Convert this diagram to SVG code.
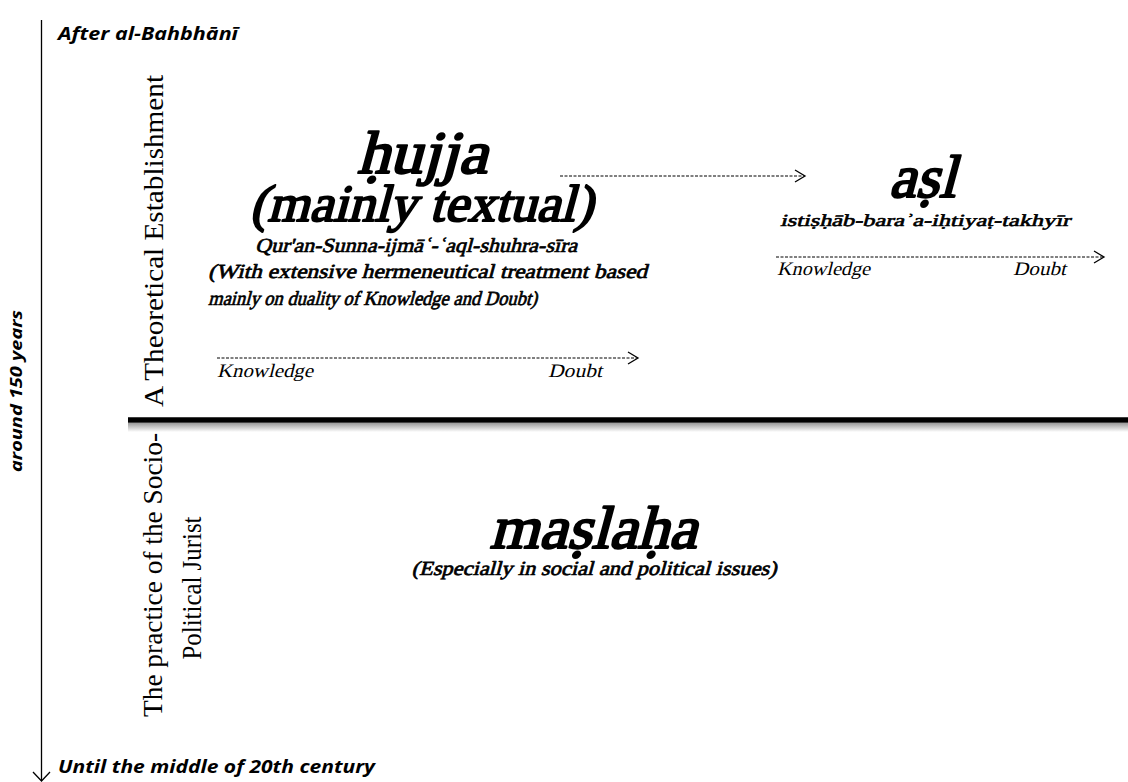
<svg xmlns="http://www.w3.org/2000/svg" width="1128" height="782" viewBox="0 0 1128 782">
<defs>
<style>
.sans{font-family:"Open Sans","Liberation Sans",sans-serif;font-weight:bold;font-style:italic;fill:#000}
.serif{font-family:"Liberation Serif","Times New Roman",serif;fill:#000}
.bi{font-family:"Liberation Serif","Times New Roman",serif;font-weight:normal;fill:#000;stroke:#000;stroke-linejoin:round}
.it{font-family:"Liberation Serif","Times New Roman",serif;fill:#000}
.dash{stroke:#000;stroke-width:1;stroke-dasharray:3 1.5;fill:none}
.head{stroke:#000;stroke-width:1.3;fill:none}
</style>
<linearGradient id="shadow" x1="0" y1="0" x2="0" y2="1">
<stop offset="0" stop-color="#9a9a9a"/>
<stop offset="1" stop-color="#ffffff"/>
</linearGradient>
</defs>
<rect width="1128" height="782" fill="#fff"/>

<g id="timeline">
<line x1="41.5" y1="20" x2="41.5" y2="780" stroke="#000" stroke-width="1.3"/>
<polyline points="33,772 41.5,781 50,772" class="head"/>
<text class="sans" x="58" y="40" font-size="17" textLength="180" lengthAdjust="spacingAndGlyphs">After al-Bahbhānī</text>
<text class="sans" x="58" y="773" font-size="17" textLength="317" lengthAdjust="spacingAndGlyphs">Until the middle of 20th century</text>
<text class="sans" font-size="16" text-anchor="middle" transform="translate(22 391) rotate(-90)" textLength="162" lengthAdjust="spacingAndGlyphs">around 150 years</text>
</g>

<g id="divider">
<rect x="128" y="423" width="1000" height="9" fill="url(#shadow)"/>
<line x1="128" y1="420" x2="1128" y2="420" stroke="#000" stroke-width="5.5"/>
</g>

<g id="label-theoretical">
<text class="serif" font-size="28" text-anchor="middle" transform="translate(163 241) rotate(-90)" textLength="332" lengthAdjust="spacingAndGlyphs">A Theoretical Establishment</text>
</g>

<g id="label-practice">
<text class="serif" font-size="28" text-anchor="middle" transform="translate(162 575) rotate(-90)" textLength="284" lengthAdjust="spacingAndGlyphs">The practice of the Socio-</text>
<text class="serif" font-size="28" text-anchor="middle" transform="translate(201 588) rotate(-90)" textLength="143" lengthAdjust="spacingAndGlyphs">Political Jurist</text>
</g>

<g id="hujja">
<text class="bi" font-size="60" stroke-width="2.2" text-anchor="middle" transform="translate(422 173) skewX(-15)" textLength="130" lengthAdjust="spacingAndGlyphs">ḥujja</text>
<text class="bi" font-size="52" stroke-width="2" text-anchor="middle" transform="translate(421 221) skewX(-15)" textLength="343" lengthAdjust="spacingAndGlyphs">(mainly textual)</text>
<text class="bi" font-size="20" stroke-width="0.7" text-anchor="middle" transform="translate(416 252) skewX(-15)" textLength="322" lengthAdjust="spacingAndGlyphs">Qur'an-Sunna-ijmāʿ-ʿaql-shuhra-sīra</text>
<text class="bi" font-size="20" stroke-width="0.7" transform="translate(208 278) skewX(-15)" textLength="439" lengthAdjust="spacingAndGlyphs">(With extensive hermeneutical treatment based</text>
<text class="bi" font-size="20" stroke-width="0.7" transform="translate(208 305) skewX(-15)" textLength="329" lengthAdjust="spacingAndGlyphs">mainly on duality of Knowledge and Doubt)</text>
<text class="it" font-size="19" transform="translate(217 377) skewX(-14)" textLength="96" lengthAdjust="spacingAndGlyphs">Knowledge</text>
<text class="it" font-size="19" transform="translate(548 377) skewX(-14)" textLength="54" lengthAdjust="spacingAndGlyphs">Doubt</text>
</g>

<g id="asl">
<text class="bi" font-size="60" stroke-width="2.2" text-anchor="middle" transform="translate(922 197) skewX(-15)">aṣl</text>
<text class="bi" font-size="17" stroke-width="0.6" text-anchor="middle" transform="translate(925 226) skewX(-15)" textLength="290" lengthAdjust="spacingAndGlyphs">istiṣḥāb-baraʾa-iḥtiyaṭ-takhyīr</text>
<text class="it" font-size="19" transform="translate(777 275) skewX(-14)" textLength="93" lengthAdjust="spacingAndGlyphs">Knowledge</text>
<text class="it" font-size="19" transform="translate(1013 275) skewX(-14)" textLength="53" lengthAdjust="spacingAndGlyphs">Doubt</text>
</g>

<g id="maslaha">
<text class="bi" font-size="60" stroke-width="2.2" text-anchor="middle" transform="translate(593 548) skewX(-15)" textLength="207" lengthAdjust="spacingAndGlyphs">maṣlaḥa</text>
<text class="bi" font-size="20" stroke-width="0.7" text-anchor="middle" transform="translate(594 575) skewX(-15)" textLength="365" lengthAdjust="spacingAndGlyphs">(Especially in social and political issues)</text>
</g>

<g id="connectors">
<line x1="560" y1="176" x2="804" y2="176" class="dash"/>
<polyline points="795,170 805,176 795,182" class="head"/>
<line x1="217" y1="358" x2="637" y2="358" class="dash"/>
<polyline points="628,352 638,358 628,364" class="head"/>
<line x1="776" y1="257" x2="1103" y2="257" class="dash"/>
<polyline points="1094,251 1104,257 1094,263" class="head"/>
</g>
</svg>
